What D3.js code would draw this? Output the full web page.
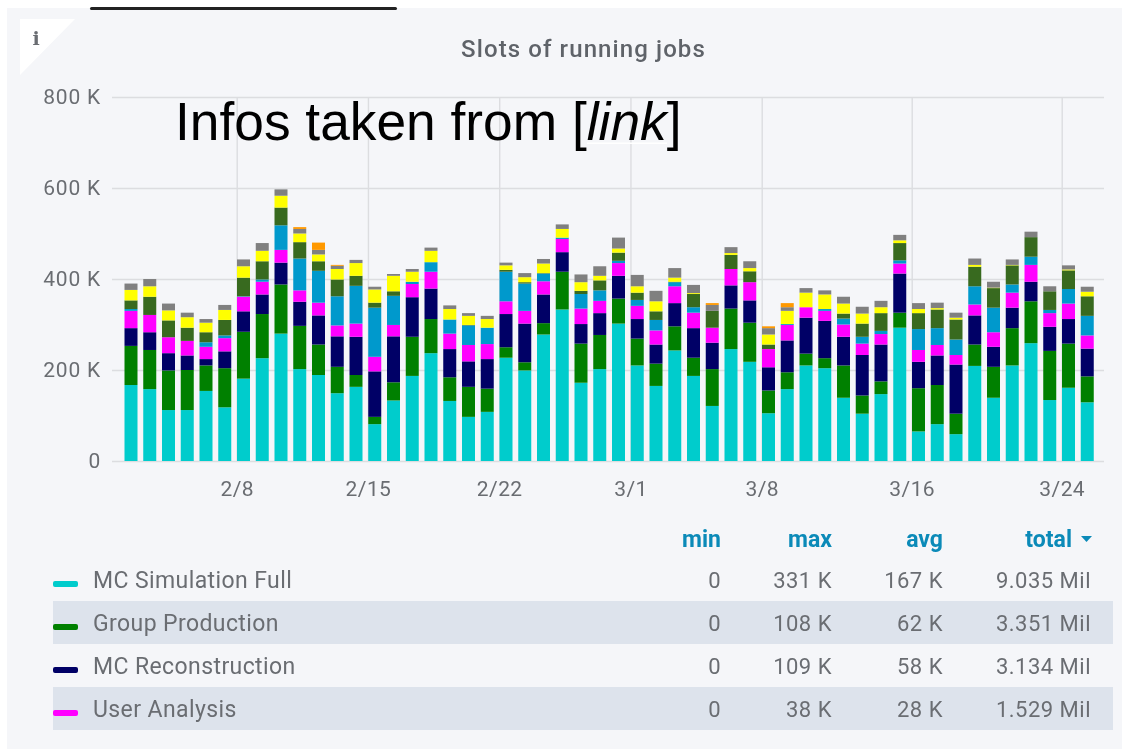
<!DOCTYPE html>
<html>
<head>
<meta charset="utf-8">
<title>Slots of running jobs</title>
<style>
  html, body { margin: 0; background: #fff; }
  svg { display: block; }
  .soft { filter: blur(0.6px); }
  text { font-family: Roboto, sans-serif; }
  .domain { display: none; }
</style>
<script src="https://d3js.org/d3.v7.min.js"></script>
</head>
<body>
<svg id="chart" width="1122" height="749"></svg>
<script>
const days = ["2/2","2/3","2/4","2/5","2/6","2/7","2/8","2/9","2/10","2/11","2/12","2/13","2/14","2/15","2/16","2/17","2/18","2/19","2/20","2/21","2/22","2/23","2/24","2/25","2/26","2/27","2/28","3/1","3/2","3/3","3/4","3/5","3/6","3/7","3/8","3/9","3/10","3/11","3/12","3/13","3/14","3/15","3/16","3/17","3/18","3/19","3/20","3/21","3/22","3/23","3/24","3/25"];
const tickDays = ["2/8","2/15","2/22","3/1","3/8","3/16","3/24"];
const yTicks = [0, 200, 400, 600, 800];

// thousands of slots per day, bottom of the stack first
const mcSimulationFull = [167,158,112,112,154,118,181,226,280,202,189,149,163,81,133,187,237,132,97,108,227,199,278,333,172,202,302,210,165,243,187,121,246,218,105,158,210,204,139,104,147,293,65,81,59,209,139,210,259,134,161,129];
const groupProduction = [86,86,87,88,56,86,103,97,108,95,67,58,26,16,40,86,75,52,66,51,23,18,25,83,86,75,55,59,49,53,40,81,89,86,50,37,26,22,71,40,28,33,95,86,45,47,68,82,92,108,97,57];
const mcReconstruction = [39,39,38,32,14,37,45,43,48,53,64,67,84,100,101,87,67,62,56,65,73,85,63,43,43,48,50,43,42,51,65,58,51,49,51,70,79,82,63,89,81,86,58,65,108,64,44,45,43,53,54,61];
const userAnalysis = [38,38,35,32,27,29,32,28,28,25,28,24,29,32,25,29,37,34,36,33,28,28,29,29,34,27,28,29,31,37,34,33,36,40,40,34,23,22,27,25,23,22,26,23,21,24,32,33,37,30,34,29];
const blueJobs = [4,0,0,0,10,6,1,5,54,70,70,64,83,108,64,5,21,31,43,36,65,60,17,3,32,23,5,13,23,9,12,0,0,0,0,2,0,4,13,15,7,7,46,37,34,40,54,18,18,7,32,43];
const oliveJobs = [19,40,37,29,22,34,41,40,39,36,21,37,22,11,10,0,0,0,1,0,4,3,1,0,7,22,18,16,19,1,29,37,31,24,10,0,0,0,11,29,39,38,35,41,44,43,43,42,43,41,41,43];
const yellowJobs = [23,23,22,23,21,22,25,23,26,19,15,23,28,29,34,22,25,23,20,19,10,11,21,19,19,10,9,14,22,9,2,0,4,7,22,29,32,32,22,22,13,6,9,3,4,4,1,1,0,0,2,10];
const grayJobs = [14,16,15,10,8,11,15,17,14,10,10,7,7,6,4,6,7,8,6,7,6,9,10,10,17,21,24,25,23,21,18,13,13,15,14,8,10,9,15,15,14,12,13,12,11,14,13,12,12,11,9,11];
const orangeJobs = [0,0,0,0,0,0,0,0,0,4,16,2,0,0,0,0,0,0,0,0,0,0,0,0,0,0,0,0,0,0,0,4,0,0,4,9,0,0,0,0,0,0,0,0,0,0,0,0,0,0,0,0];

const seriesValues = [mcSimulationFull, groupProduction, mcReconstruction, userAnalysis, blueJobs, oliveJobs, yellowJobs, grayJobs, orangeJobs];
const seriesColors = ["#00cccc", "#008000", "#000066", "#ff00ff", "#0099cc", "#386a1f", "#ffff00", "#808080", "#ff9900"];

const legendNames = ["MC Simulation Full", "Group Production", "MC Reconstruction", "User Analysis"];
const legendHeaders = ["min", "max", "avg", "total"];
const legendMin = ["0", "0", "0", "0"];
const legendMax = ["331 K", "108 K", "109 K", "38 K"];
const legendAvg = ["167 K", "62 K", "58 K", "28 K"];
const legendTotal = ["9.035 Mil", "3.351 Mil", "3.134 Mil", "1.529 Mil"];

const parseDay = d3.utcParse("%m/%d");
const table = days.map((d, i) => {
  const row = { date: parseDay(d) };
  seriesValues.forEach((s, k) => { row[k] = s[i]; });
  return row;
});
const stacked = d3.stack().keys(seriesValues.map((s, k) => k))(table);

// 2/8 and 3/24 sit on these pixels, one day is 18.75 px
const x = d3.scaleUtc().domain([parseDay("2/8"), parseDay("3/24")]).range([236.7, 1061.7]);
const y = d3.scaleLinear().domain([0, 800]).range([461, 97]);
const barWidth = 13;
const barShift = 6.8;

const svg = d3.select("#chart");
svg.append("rect").attr("x", 7).attr("y", 8).attr("width", 1115).attr("height", 741).attr("fill", "#f5f6f9");
svg.append("rect").attr("x", 90).attr("y", 7).attr("width", 307).attr("height", 3).attr("rx", 1.5).attr("fill", "#222");

const soft = svg.append("g").attr("class", "soft");
soft.append("path").attr("d", "M20,19H75L20,75Z").attr("fill", "#fff");
soft.append("text").attr("x", 36).attr("y", 45).attr("text-anchor", "middle")
  .style("font-family", "'DejaVu Serif'").style("font-weight", "bold").style("font-size", "19px")
  .attr("fill", "#6a6d72").text("i");
soft.append("text").attr("x", 583.5).attr("y", 57).attr("text-anchor", "middle")
  .style("font-size", "24px").style("font-weight", "500").style("letter-spacing", "1.1px")
  .attr("fill", "#5f6369").text("Slots of running jobs");

const yAxis = soft.append("g").attr("transform", "translate(112,0)")
  .call(d3.axisLeft(y).tickValues(yTicks).tickSize(-992).tickPadding(11)
    .tickFormat(d => d === 0 ? "0" : d + " K"));
yAxis.selectAll("line").attr("stroke", "#dcdde0").attr("stroke-width", 1.4);
yAxis.selectAll("text").style("font-size", "21px").style("letter-spacing", "0.8px").attr("fill", "#6a6d72");

const xAxis = soft.append("g").attr("transform", "translate(0,461)")
  .call(d3.axisBottom(x).tickValues(tickDays.map(parseDay)).tickSize(-364).tickPadding(20)
    .tickFormat(d3.utcFormat("%-m/%-d")));
xAxis.selectAll("line").attr("stroke", "#dcdde0").attr("stroke-width", 1.4);
xAxis.selectAll("text").style("font-size", "21px").style("letter-spacing", "0.4px").attr("fill", "#6a6d72");

soft.append("g").selectAll("g")
  .data(stacked)
  .enter().append("g")
  .attr("fill", (d, k) => seriesColors[k])
  .selectAll("rect")
  .data(d => d)
  .enter().append("rect")
  .attr("x", d => x(d.data.date) + barShift - barWidth / 2)
  .attr("width", barWidth)
  .attr("y", d => y(d[1]))
  .attr("height", d => y(d[0]) - y(d[1]));

// legend table
const rowY = d3.scalePoint().domain(legendNames).range([580, 709]);
const columnX = [721, 832, 943, 1091];

soft.selectAll(".band")
  .data(legendNames.filter((d, i) => i % 2 === 1))
  .enter().append("rect")
  .attr("x", 53).attr("width", 1060)
  .attr("y", d => rowY(d) - 22).attr("height", 43)
  .attr("fill", "#dde3ec");

soft.selectAll(".header")
  .data(legendHeaders)
  .enter().append("text")
  .attr("x", (d, i) => i === 3 ? columnX[i] - 19 : columnX[i])
  .attr("y", 547)
  .attr("text-anchor", "end")
  .style("font-size", "23px").style("font-weight", "700")
  .attr("fill", "#0b8ab8")
  .text(d => d);
soft.append("path").attr("d", "M1081,536h11l-5.5,6Z").attr("fill", "#0b8ab8");

const rows = soft.selectAll(".row").data(legendNames).enter().append("g")
  .attr("transform", d => "translate(0," + rowY(d) + ")");
rows.append("rect").attr("x", 53).attr("y", 1).attr("width", 25).attr("height", 6).attr("rx", 2)
  .attr("fill", (d, i) => seriesColors[i]);
rows.append("text").attr("x", 93).attr("y", 8).style("font-size", "23px").style("letter-spacing", "0.4px")
  .attr("fill", "#6a6d72").text(d => d);
[legendMin, legendMax, legendAvg, legendTotal].forEach((col, c) => {
  rows.append("text").attr("x", columnX[c]).attr("y", 8).attr("text-anchor", "end")
    .style("font-size", "22px").style("letter-spacing", "0.5px")
    .attr("fill", "#6a6d72").text((d, i) => col[i]);
});

// annotation pasted on top of the screenshot, it is sharp
const note = svg.append("text").attr("x", 175).attr("y", 140)
  .style("font-family", "'Liberation Sans'").style("font-size", "53.3px").attr("fill", "#000");
note.append("tspan").text("Infos taken from [");
note.append("tspan").style("font-style", "italic").text("link");
note.append("tspan").text("]");
svg.append("rect").attr("x", 587).attr("y", 142.5).attr("width", 80).attr("height", 1.5).attr("fill", "#fff");
</script>
</body>
</html>
